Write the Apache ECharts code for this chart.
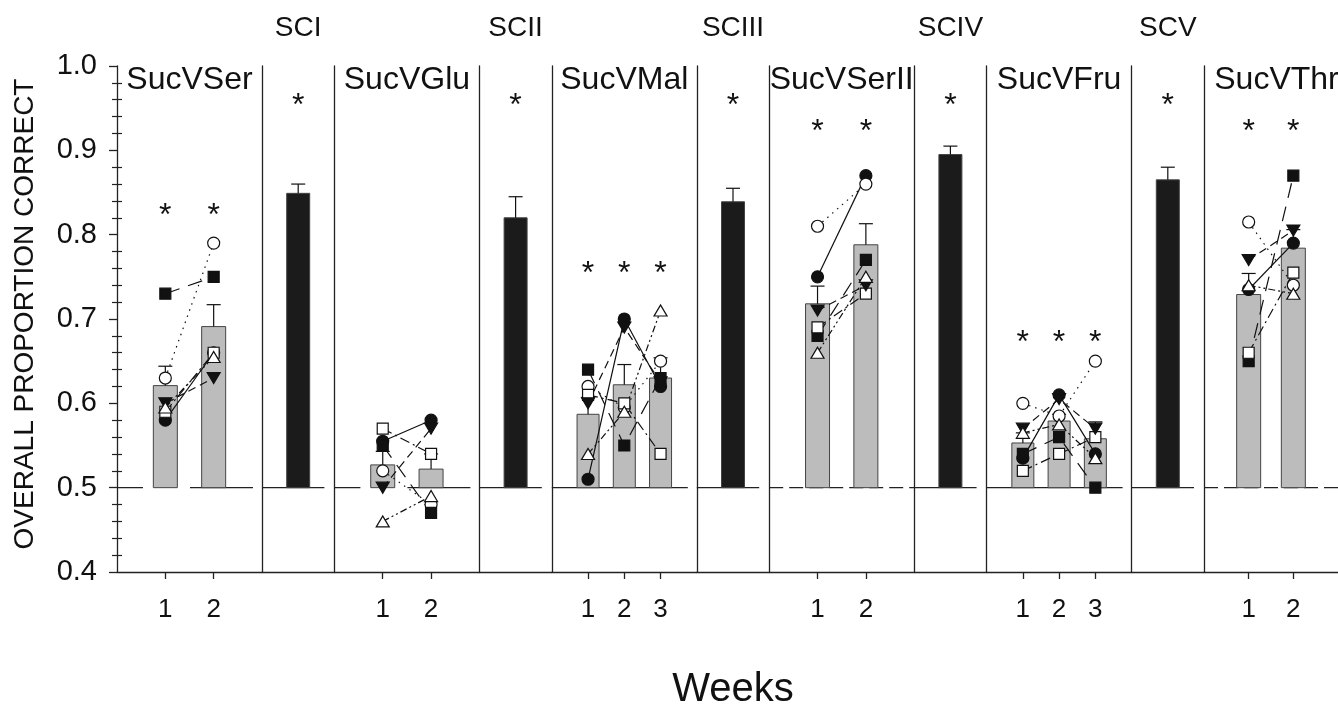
<!DOCTYPE html>
<html>
<head>
<meta charset="utf-8">
<script src="https://cdn.jsdelivr.net/npm/echarts@6/dist/echarts.min.js"></script>
<style>
  html, body { margin: 0; padding: 0; background: #fff; }
  #chart { width: 1338px; height: 706px; }
</style>
</head>
<body>
<div id="chart"></div>
<script>
// Weekly sucrose-vs-sugar discrimination tests, with solution-concentration (SC) checks between them.
const chance = 0.5;
const yMin = 0.4, yMax = 1.0, yStep = 0.1;

const testNames = ['SucVSer', 'SucVGlu', 'SucVMal', 'SucVSerII', 'SucVFru', 'SucVThr'];
const scNames = ['SCI', 'SCII', 'SCIII', 'SCIV', 'SCV'];
const weeks2 = [1, 2];
const weeks3 = [1, 2, 3];

// Row order of every *Animals array below
const animalKeys = ['filledCircle', 'openCircle', 'filledSquare', 'openSquare', 'filledTriDown', 'openTriUp'];

// SucVSer
const serMean = [0.621, 0.691];
const serSem = [0.023, 0.026];
const serAnimals = [[0.58, 0.66], [0.63, 0.79], [0.73, 0.75], [0.59, 0.66], [0.60, 0.63], [0.595, 0.655]];
const serStars = [0.83, 0.83];

// SucVGlu
const gluMean = [0.527, 0.522];
const gluSem = [0.016, 0.018];
const gluAnimals = [[0.555, 0.58], [0.52, 0.48], [0.55, 0.47], [0.57, 0.54], [0.50, 0.57], [0.46, 0.49]];
const gluStars = [];

// SucVMal
const malMean = [0.587, 0.622, 0.630];
const malSem = [0.020, 0.024, 0.024];
const malAnimals = [[0.51, 0.70, 0.62], [0.62, 0.595, 0.65], [0.64, 0.55, 0.63], [0.61, 0.60, 0.54], [0.60, 0.69, 0.625], [0.54, 0.59, 0.71]];
const malStars = [0.761, 0.761, 0.761];

// SucVSerII
const ser2Mean = [0.718, 0.788];
const ser2Sem = [0.021, 0.025];
const ser2Animals = [[0.75, 0.87], [0.81, 0.86], [0.68, 0.77], [0.69, 0.73], [0.71, 0.74], [0.66, 0.75]];
const ser2Stars = [0.93, 0.93];

// SucVFru
const fruMean = [0.553, 0.579, 0.558];
const fruSem = [0.012, 0.008, 0.020];
const fruAnimals = [[0.535, 0.61, 0.54], [0.60, 0.585, 0.65], [0.54, 0.56, 0.50], [0.52, 0.54, 0.56], [0.57, 0.605, 0.57], [0.565, 0.575, 0.535]];
const fruStars = [0.68, 0.68, 0.68];

// SucVThr
const thrMean = [0.729, 0.784];
const thrSem = [0.025, 0.022];
const thrAnimals = [[0.735, 0.79], [0.815, 0.74], [0.65, 0.87], [0.66, 0.755], [0.77, 0.805], [0.74, 0.73]];
const thrStars = [0.93, 0.93];

// Solution-concentration checks
const scMean = [0.849, 0.820, 0.839, 0.895, 0.865];
const scSem = [0.011, 0.025, 0.016, 0.010, 0.015];
const scStars = [0.961, 0.961, 0.961, 0.961, 0.961];

const tests = [
  { name: testNames[0], weeks: weeks2, mean: serMean, sem: serSem, animals: serAnimals, stars: serStars },
  { name: testNames[1], weeks: weeks2, mean: gluMean, sem: gluSem, animals: gluAnimals, stars: gluStars },
  { name: testNames[2], weeks: weeks3, mean: malMean, sem: malSem, animals: malAnimals, stars: malStars },
  { name: testNames[3], weeks: weeks2, mean: ser2Mean, sem: ser2Sem, animals: ser2Animals, stars: ser2Stars },
  { name: testNames[4], weeks: weeks3, mean: fruMean, sem: fruSem, animals: fruAnimals, stars: fruStars },
  { name: testNames[5], weeks: weeks2, mean: thrMean, sem: thrSem, animals: thrAnimals, stars: thrStars }
];

// ---- styling and layout ----
const ink = '#111';
const axisColor = '#222';
const font = "'Liberation Sans', Arial, Helvetica, sans-serif";
const plotTop = 66, plotHeight = 506;
const firstLeft = 117, testWidth = 145, scWidth = 72.4, period = 217.4;

// dash pattern of the 0.5 reference line in each test panel, and gap before the divider
const chanceStyle = [
  { dash: [26, 47, 63, 60], endGap: 9 },
  { dash: [26, 47, 63, 60], endGap: 9 },
  { dash: null, endGap: 9 },
  { dash: [14, 6], endGap: 0 },
  { dash: null, endGap: 9 },
  { dash: [14, 6], endGap: 0 }
];

const animalStyle = {
  filledCircle:  { symbol: 'circle', size: 12, rotate: 0, fill: ink, dash: 'solid' },
  openCircle:    { symbol: 'circle', size: 12, rotate: 0, fill: '#fff', dash: [1.5, 5] },
  filledSquare:  { symbol: 'rect', size: 11, rotate: 0, fill: ink, dash: [15, 9] },
  openSquare:    { symbol: 'rect', size: 11, rotate: 0, fill: '#fff', dash: [10, 4, 2, 4] },
  filledTriDown: { symbol: 'triangle', size: [13, 11], rotate: 180, fill: ink, dash: [8, 5] },
  openTriUp:     { symbol: 'triangle', size: [13, 11], rotate: 0, fill: '#fff', dash: [7, 3, 2, 3, 2, 3] }
};

const grids = [], xAxes = [], yAxes = [], series = [], graphics = [];

function plainY(g) {
  return {
    type: 'value', gridIndex: g, position: 'left', min: yMin, max: yMax, interval: yStep,
    axisLine: { show: true, onZero: false, lineStyle: { color: axisColor, width: 1.3 } },
    axisTick: { show: false }, axisLabel: { show: false }, splitLine: { show: false }
  };
}

function chanceSeries(g, yi, dash, endGap) {
  return {
    type: 'custom', xAxisIndex: g, yAxisIndex: yi, z: 1, silent: true,
    data: [[0, chance]],
    renderItem(params, api) {
      const cs = params.coordSys;
      const y = api.coord([api.value(0), api.value(1)])[1];
      return {
        type: 'line',
        shape: { x1: cs.x, y1: y, x2: cs.x + cs.width - endGap, y2: y },
        style: { stroke: axisColor, lineWidth: 1.2, lineDash: dash || null }
      };
    }
  };
}

function barSeries(g, yi, points, width, fill) {
  return {
    type: 'custom', xAxisIndex: g, yAxisIndex: yi, z: 2, silent: true,
    data: points,
    renderItem(params, api) {
      const x = api.value(0), m = api.value(1), s = api.value(2);
      const top = api.coord([x, m]);
      const base = api.coord([x, chance]);
      const err = api.coord([x, m + s]);
      return {
        type: 'group',
        children: [
          { type: 'rect', shape: { x: top[0] - width / 2, y: top[1], width: width, height: base[1] - top[1] },
            style: { fill: fill, stroke: '#444', lineWidth: 1 } },
          { type: 'line', shape: { x1: top[0], y1: top[1], x2: top[0], y2: err[1] },
            style: { stroke: ink, lineWidth: 1.2 } },
          { type: 'line', shape: { x1: top[0] - 7, y1: err[1], x2: top[0] + 7, y2: err[1] },
            style: { stroke: ink, lineWidth: 1.2 } }
        ]
      };
    }
  };
}

function starSeries(g, yi, points) {
  return {
    type: 'custom', xAxisIndex: g, yAxisIndex: yi, z: 4, silent: true,
    data: points,
    renderItem(params, api) {
      const p = api.coord([api.value(0), api.value(1)]);
      return {
        type: 'text', x: p[0], y: p[1] + 7,
        style: { text: '*', fill: ink, fontSize: 32, fontFamily: font,
                 align: 'center', verticalAlign: 'middle', textAlign: 'center', textVerticalAlign: 'middle' }
      };
    }
  };
}

function addText(text, x, y, size, extra) {
  graphics.push(Object.assign({
    type: 'text', x: x, y: y, silent: true,
    style: { text: text, fill: ink, fontSize: size, fontFamily: font,
             align: 'center', verticalAlign: 'middle', textAlign: 'center', textVerticalAlign: 'middle' }
  }, extra || {}));
}

tests.forEach((t, i) => {
  // ---- test panel ----
  const left = firstLeft + i * period;
  const g = grids.length;
  grids.push({ left: left, top: plotTop, width: testWidth, height: plotHeight });
  xAxes.push({
    type: 'value', gridIndex: g, min: 0, max: t.weeks.length + 1,
    axisLine: { show: true, onZero: false, lineStyle: { color: axisColor, width: 1.3 } },
    axisTick: { show: true, customValues: t.weeks, length: 7, lineStyle: { color: axisColor, width: 1.3 } },
    axisLabel: { show: true, customValues: t.weeks, fontSize: 26, color: ink, fontFamily: font, margin: 25 },
    splitLine: { show: false }
  });
  let yi;
  if (i === 0) {
    yi = yAxes.length;
    const yMain = plainY(g);
    yMain.axisTick = { show: true, length: 8, lineStyle: { color: axisColor, width: 1.3 } };
    yMain.minorTick = { show: true, splitNumber: 5, length: 5, lineStyle: { color: axisColor, width: 1.2 } };
    yMain.axisLabel = { show: true, fontSize: 29, color: ink, fontFamily: font, margin: 20,
                        formatter: v => v.toFixed(1) };
    yAxes.push(yMain);
    const yInner = plainY(g);
    yInner.axisLine = { show: false };
    yInner.axisTick = { show: false, inside: true };
    yInner.minorTick = { show: true, splitNumber: 5, length: 5, lineStyle: { color: axisColor, width: 1.2 } };
    yAxes.push(yInner);
  } else {
    yi = yAxes.length;
    yAxes.push(plainY(g));
  }

  const cst = chanceStyle[i];
  series.push(chanceSeries(g, yi, cst.dash, cst.endGap));
  series.push(barSeries(g, yi, t.weeks.map((w, k) => [w, t.mean[k], t.sem[k]]),
                        t.weeks.length === 3 ? 22 : 24, '#bcbcbc'));
  t.animals.forEach((vals, a) => {
    const st = animalStyle[animalKeys[a]];
    series.push({
      type: 'line', xAxisIndex: g, yAxisIndex: yi, z: 3, silent: true,
      data: t.weeks.map((w, k) => [w, vals[k]]),
      symbol: st.symbol, symbolSize: st.size, symbolRotate: st.rotate, showSymbol: true,
      itemStyle: { color: st.fill, borderColor: ink, borderWidth: 1.2 },
      lineStyle: { color: ink, width: 1.2, type: st.dash }
    });
  });
  if (t.stars.length) series.push(starSeries(g, yi, t.weeks.map((w, k) => [w, t.stars[k]])));
  addText(t.name, left + testWidth / 2, 80, 32);

  // ---- solution-concentration panel ----
  if (i < scNames.length) {
    const sLeft = left + testWidth;
    const sg = grids.length;
    grids.push({ left: sLeft, top: plotTop, width: scWidth, height: plotHeight });
    xAxes.push({
      type: 'category', gridIndex: sg, data: [scNames[i]],
      axisLine: { show: true, onZero: false, lineStyle: { color: axisColor, width: 1.3 } },
      axisTick: { show: false }, axisLabel: { show: false }, splitLine: { show: false }
    });
    const syi = yAxes.length;
    yAxes.push(plainY(sg));
    series.push(chanceSeries(sg, syi, null, 10));
    series.push(barSeries(sg, syi, [[scNames[i], scMean[i], scSem[i]]], 23, '#1b1b1b'));
    series.push(starSeries(sg, syi, [[scNames[i], scStars[i]]]));
    addText(scNames[i], sLeft + scWidth / 2, 28, 28);
  }
});

addText('OVERALL PROPORTION CORRECT', 25, 314, 28, { rotation: Math.PI / 2 });
addText('Weeks', 733, 690, 40);

const chart = echarts.init(document.getElementById('chart'), null, { renderer: 'canvas' });
chart.setOption({
  animation: false,
  backgroundColor: '#fff',
  grid: grids,
  xAxis: xAxes,
  yAxis: yAxes,
  series: series,
  graphic: graphics
});
</script>
</body>
</html>
